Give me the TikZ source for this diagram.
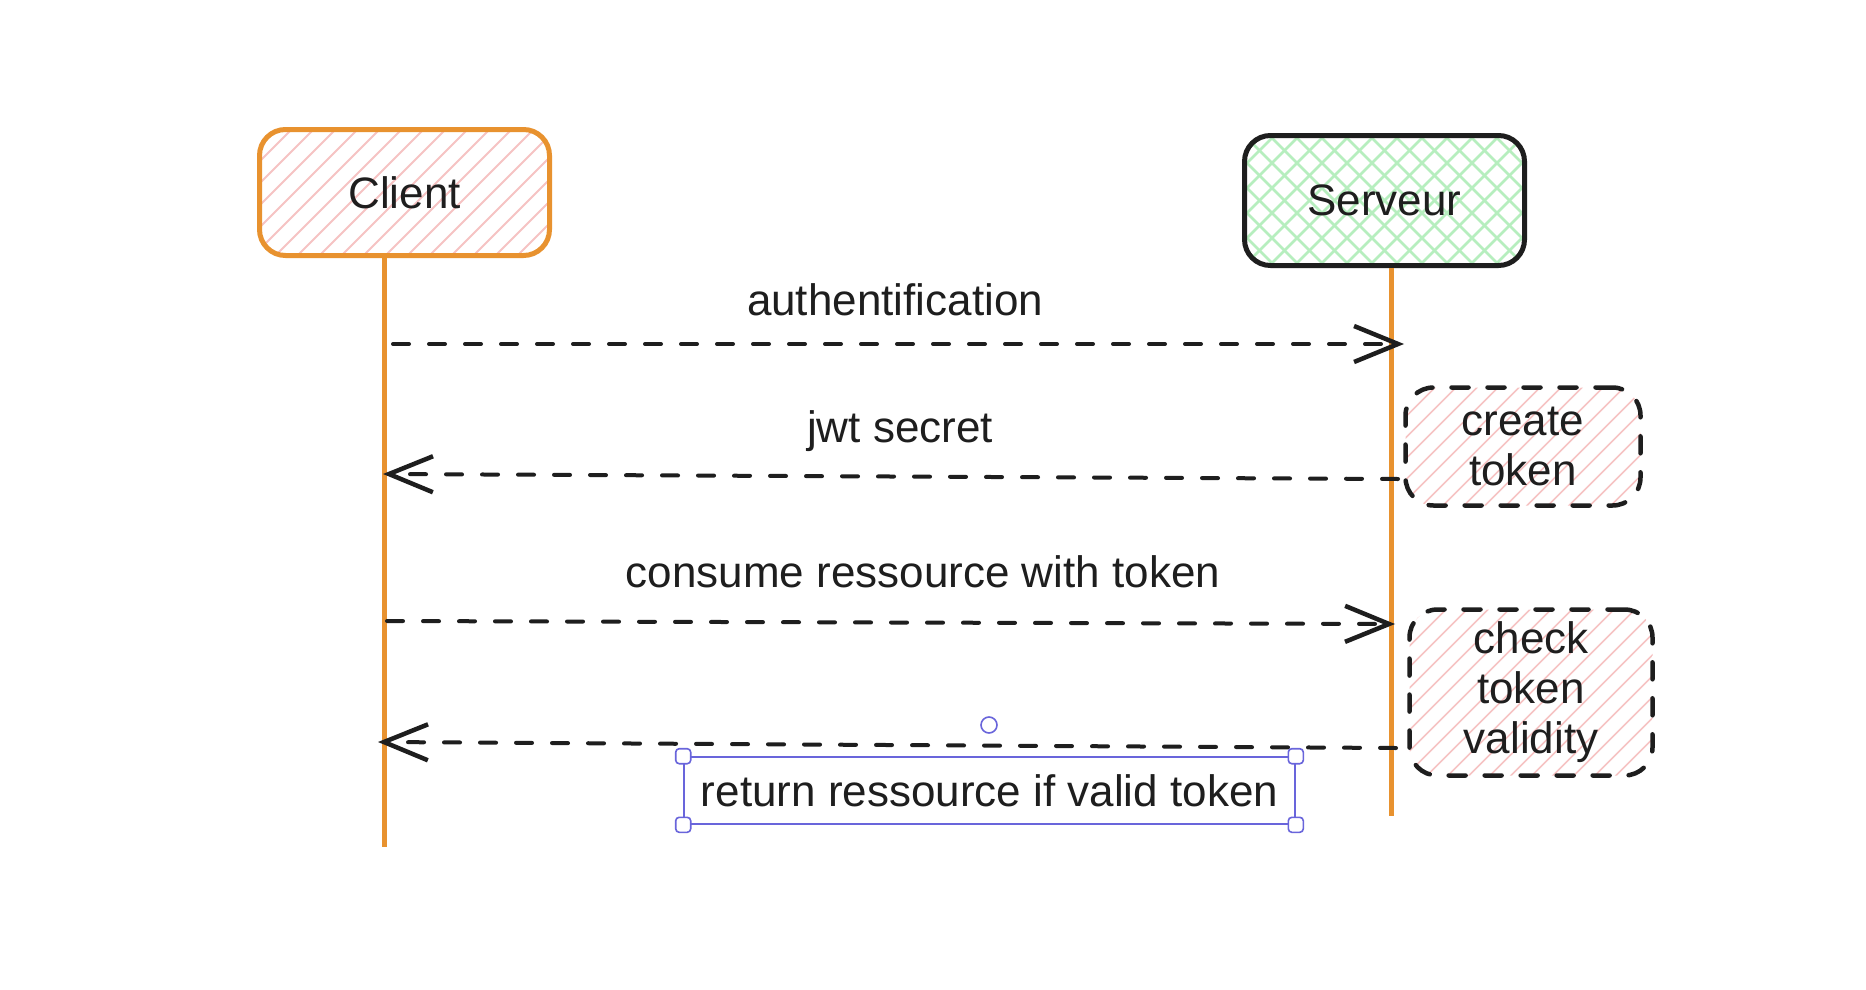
\documentclass[tikz,border=0pt]{standalone}
\usepackage{fontspec}
\setmainfont{Liberation Sans}
\usetikzlibrary{arrows.meta}
\definecolor{ink}{HTML}{1E1E1E}
\definecolor{lifeorange}{HTML}{E8922F}
\definecolor{hpink}{HTML}{F6C3C3}
\definecolor{hgreen}{HTML}{B6EEBE}
\definecolor{selblue}{HTML}{6965DB}
\tikzset{
  hatch/.style n args={3}{path picture={
    \foreach \k in {-30,...,30}{
      \draw[#1, line width=#3, solid] ([xshift=\k*#2]path picture bounding box.center) ++(-300pt,-300pt) -- ++(600pt,600pt);
    }}},
  crosshatch/.style n args={3}{path picture={
    \foreach \k in {-30,...,30}{
      \draw[#1, line width=#3, solid] ([xshift=\k*#2]path picture bounding box.center) ++(-300pt,-300pt) -- ++(600pt,600pt);
      \draw[#1, line width=#3, solid] ([xshift=\k*#2]path picture bounding box.center) ++(-300pt,300pt) -- ++(600pt,-600pt);
    }}},
  actor/.style={rectangle, rounded corners=26pt, line width=5pt, text=ink, inner sep=0pt},
  note/.style={rectangle, rounded corners=28pt, draw=ink, line width=4.5pt,
    dash pattern=on 17pt off 19pt, line cap=round, align=center, text=ink, inner sep=0pt,
    hatch={hpink}{21pt}{1.6pt}},
  lifeline/.style={draw=lifeorange, line width=5pt},
  msg/.style={draw=ink, line width=4pt, dash pattern=on 16pt off 20pt, line cap=round,
    -{Straight Barb[length=44pt,width=36pt,line width=4.5pt]}},
  lbl/.style={text=ink, inner sep=0pt},
  handle/.style={rectangle, rounded corners=3.5pt, draw=selblue, fill=white, line width=1.6pt,
    minimum size=15pt, inner sep=0pt},
}
\begin{document}
\begin{tikzpicture}[x=1pt, y=-1pt, font=\fontsize{44}{50}\selectfont]
\useasboundingbox (0,0) rectangle (1866,990);
\fill[white] (0,0) rectangle (1866,990);

% actors
\node[actor, draw=lifeorange, hatch={hpink}{22pt}{2pt},
  minimum width=290pt, minimum height=126pt] (client) at (404.5,192.5) {Client};
\node[actor, draw=ink, crosshatch={hgreen}{25pt}{2.6pt},
  minimum width=280pt, minimum height=130pt] (server) at (1384.5,200.5) {Serveur};

% lifelines
\coordinate (cend) at (384,847);
\coordinate (send) at (1391,816);
\draw[lifeline] (client.south -| cend) -- (cend);
\draw[lifeline] (server.south -| send) -- (send);

% notes
\node[note, minimum width=235pt, minimum height=118pt] (create) at (1523,446.5) {create\\token};
\node[note, minimum width=243pt, minimum height=166pt] (check) at (1531,692.5) {check\\token\\validity};

% messages
\coordinate (m1s) at (393,344);
\coordinate (m1e) at (1404,344);
\draw[msg] (m1s) -- (m1e);
\node[lbl] (l1) at (895,300) {authentification};

\coordinate (m2s) at (1398,479);
\coordinate (m2e) at (383,474);
\draw[msg] (m2s) -- (m2e);
\node[lbl] (l2) at (900,431) {jwt secret};

\coordinate (m3s) at (387,621);
\coordinate (m3e) at (1395,624);
\draw[msg] (m3s) -- (m3e);
\node[lbl] (l3) at (923,572) {consume ressource with token};

\coordinate (m4s) at (1396,748);
\coordinate (m4e) at (378,742);
\draw[msg] (m4s) -- (m4e);

% selected label
\node[lbl, draw=selblue, line width=1.6pt, minimum width=611pt, minimum height=67pt]
  (ret) at (989.5,790.5) {return ressource if valid token};
\node[handle] (h1) at (ret.north west) {};
\node[handle] (h2) at (ret.north east) {};
\node[handle] (h3) at (ret.south west) {};
\node[handle] (h4) at (ret.south east) {};
\node[circle, draw=selblue, fill=white, line width=1.6pt, minimum size=16pt, inner sep=0pt] (rot) at (989,725) {};
\end{tikzpicture}
\end{document}
